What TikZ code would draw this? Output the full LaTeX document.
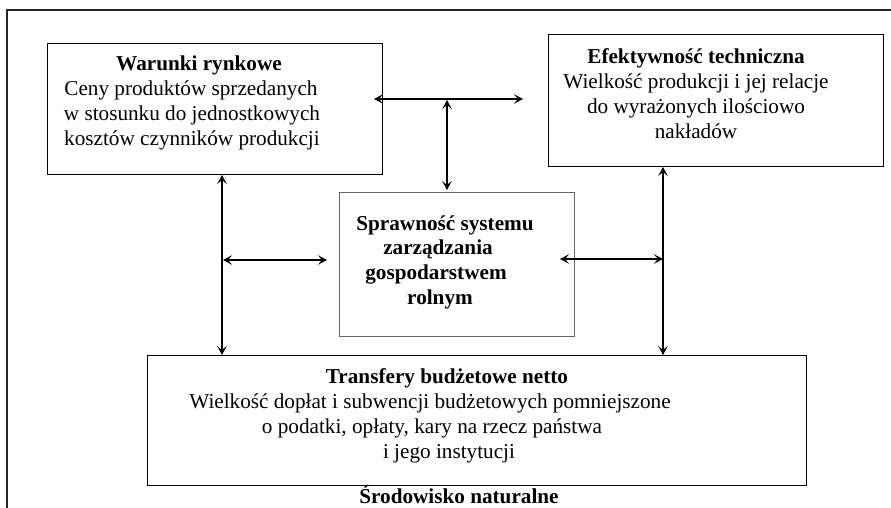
\documentclass[tikz,border=0pt]{standalone}
\usepackage{fontspec}
\setmainfont{Liberation Serif}
\usetikzlibrary{arrows.meta}
\begin{document}
\begin{tikzpicture}[x=1pt,y=-1pt,
  box/.style={draw=black, line width=1.4pt, inner sep=0pt, anchor=north west},
  graybox/.style={draw=black!60, line width=1.2pt, inner sep=0pt, anchor=north west},
  txt/.style={inner sep=0pt, anchor=base, font=\fontsize{21.2}{25}\selectfont},
  btxt/.style={txt, font=\fontsize{21.2}{25}\selectfont\bfseries},
  arr/.style={line width=1.9pt, {Stealth[length=9pt,width=9.5pt,inset=4pt]}-{Stealth[length=9pt,width=9.5pt,inset=4pt]}},
  frame/.style={draw=black!85, line width=1.2pt}]
\useasboundingbox (0,0) rectangle (891,507);
\clip (0,0) rectangle (891,507);
\fill[white] (0,0) rectangle (891,507);
% outer frame (open to the right and bottom)
\draw[frame] (7,530) -- (7,10) -- (920,10);
% boxes
\node[box, minimum width=335pt, minimum height=131pt] (wr) at (47,43) {};
\node[box, minimum width=335pt, minimum height=132pt] (ef) at (548,34) {};
\node[graybox, minimum width=235pt, minimum height=144pt] (sp) at (339,192) {};
\node[box, minimum width=659pt, minimum height=130pt] (tr) at (147,355) {};
% texts: Warunki rynkowe
\node[btxt] (wr1) at (199,70) {Warunki rynkowe};
\node[txt] (wr2) at (191,95) {Ceny produktów sprzedanych};
\node[txt] (wr3) at (192,120) {w stosunku do jednostkowych};
\node[txt] (wr4) at (192,145) {kosztów czynników produkcji};
% Efektywność techniczna
\node[btxt] (ef1) at (696,63) {Efektywność techniczna};
\node[txt] (ef2) at (696,88) {Wielkość produkcji i jej relacje};
\node[txt] (ef3) at (696,113) {do wyrażonych ilościowo};
\node[txt] (ef4) at (696,138) {nakładów};
% Sprawność
\node[btxt] (sp1) at (445,230) {Sprawność systemu};
\node[btxt] (sp2) at (438,254) {zarządzania};
\node[btxt] (sp3) at (436,279) {gospodarstwem};
\node[btxt] (sp4) at (440,304) {rolnym};
% Transfery
\node[btxt] (tr1) at (447,383) {Transfery budżetowe netto};
\node[txt] (tr2) at (430,408) {Wielkość dopłat i subwencji budżetowych pomniejszone};
\node[txt] (tr3) at (432,433) {o podatki, opłaty, kary na rzecz państwa};
\node[txt] (tr4) at (449,458) {i jego instytucji};
% environment label
\node[btxt] (env) at (459,503) {Środowisko naturalne};
% connector end points
\coordinate (h1l) at (374,99);
\coordinate (h1r) at (523,99);
\coordinate (v1t) at (447,100);
\coordinate (v1b) at (447,190);
\coordinate (vlt) at (222,175);
\coordinate (vlb) at (222,355);
\coordinate (hll) at (223,260);
\coordinate (hlr) at (327,260);
\coordinate (vrt) at (663,167);
\coordinate (vrb) at (663,355);
\coordinate (hrl) at (560,259);
\coordinate (hrr) at (663,259);
\draw[arr] (h1l) -- (h1r);
\draw[arr] (v1t) -- (v1b);
\draw[arr] (vlt) -- (vlb);
\draw[arr] (hll) -- (hlr);
\draw[arr] (vrt) -- (vrb);
\draw[arr] (hrl) -- (hrr);
\end{tikzpicture}
\end{document}
